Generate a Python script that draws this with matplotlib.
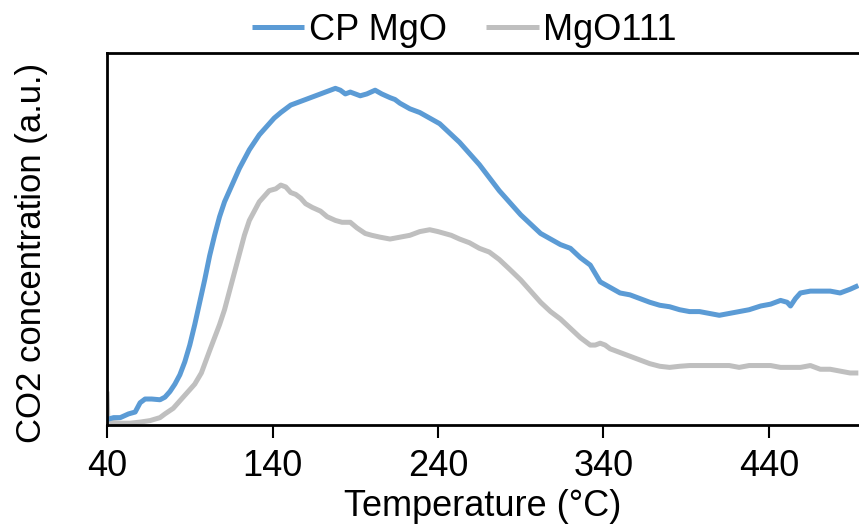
import matplotlib
matplotlib.use("Agg")
import matplotlib.pyplot as plt

# ------------------ DATA ------------------

cp_temp = [40, 44, 48, 53, 57, 60, 63, 67, 72, 75, 78, 81, 84, 87, 90, 93, 96, 99, 102, 105,
           108, 111, 114, 117, 120, 123, 126, 129, 132, 135, 138, 141, 145, 148, 151, 154, 157,
           160, 163, 166, 169, 172, 175, 178, 181, 184, 187, 190, 193, 197, 202, 206, 211, 214,
           217, 223, 229, 235, 241, 247, 253, 259, 265, 271, 277, 283, 290, 296, 302, 308, 314,
           320, 326, 332, 338, 344, 350, 356, 362, 368, 374, 380, 386, 392, 398, 404, 410, 416,
           422, 428, 435, 441, 447, 451, 453, 456, 459, 465, 471, 477, 483, 489, 494]
cp_val = [0.015, 0.02, 0.02, 0.03, 0.035, 0.06, 0.07, 0.07, 0.068, 0.075, 0.09, 0.11, 0.135,
          0.17, 0.215, 0.27, 0.33, 0.39, 0.455, 0.51, 0.56, 0.6, 0.63, 0.66, 0.69, 0.715, 0.74,
          0.76, 0.78, 0.795, 0.81, 0.825, 0.84, 0.85, 0.86, 0.865, 0.87, 0.875, 0.88, 0.885,
          0.89, 0.895, 0.9, 0.905, 0.9, 0.89, 0.895, 0.89, 0.885, 0.89, 0.9, 0.89, 0.88, 0.875,
          0.865, 0.85, 0.84, 0.825, 0.81, 0.785, 0.76, 0.73, 0.7, 0.665, 0.63, 0.6, 0.565, 0.54,
          0.515, 0.5, 0.485, 0.475, 0.45, 0.43, 0.385, 0.37, 0.355, 0.35, 0.34, 0.33, 0.322,
          0.318, 0.31, 0.305, 0.305, 0.3, 0.295, 0.3, 0.305, 0.31, 0.32, 0.325, 0.335, 0.33,
          0.32, 0.34, 0.355, 0.36, 0.36, 0.36, 0.355, 0.365, 0.375]

mgo_temp = [40, 40.5, 42, 48, 54, 60, 66, 72, 75, 80, 84, 88, 93, 97, 102, 105, 108, 111, 114,
            117, 120, 123, 126, 129, 132, 135, 138, 142, 145, 148, 151, 154, 157, 160, 164, 169,
            173, 178, 182, 187, 191, 196, 200, 205, 211, 217, 223, 229, 235, 240, 244, 248, 253,
            259, 265, 271, 277, 283, 290, 296, 302, 308, 314, 320, 326, 329, 332, 335, 338, 341,
            344, 350, 356, 362, 368, 374, 380, 386, 392, 398, 404, 410, 416, 422, 428, 435, 441,
            447, 453, 459, 465, 471, 477, 483, 489, 494]
mgo_val = [0.09, 0.01, 0.008, 0.005, 0.005, 0.008, 0.012, 0.02, 0.03, 0.045, 0.065, 0.085,
           0.11, 0.14, 0.2, 0.235, 0.27, 0.31, 0.36, 0.41, 0.46, 0.51, 0.55, 0.575, 0.6, 0.615,
           0.63, 0.635, 0.645, 0.64, 0.625, 0.62, 0.61, 0.595, 0.585, 0.575, 0.56, 0.55, 0.545,
           0.545, 0.53, 0.515, 0.51, 0.505, 0.5, 0.505, 0.51, 0.52, 0.525, 0.52, 0.515, 0.51,
           0.5, 0.49, 0.475, 0.465, 0.445, 0.42, 0.39, 0.36, 0.33, 0.305, 0.285, 0.26, 0.235,
           0.225, 0.215, 0.215, 0.22, 0.215, 0.205, 0.195, 0.185, 0.175, 0.165, 0.158, 0.155,
           0.158, 0.16, 0.16, 0.16, 0.16, 0.16, 0.155, 0.16, 0.16, 0.16, 0.155, 0.155, 0.155,
           0.16, 0.15, 0.15, 0.145, 0.14, 0.14]

x_ticks = [40, 140, 240, 340, 440]

# ------------------ CHART ------------------

plt.rcParams["font.family"] = ["Liberation Sans", "DejaVu Sans"]

fig = plt.figure(figsize=(8.59, 5.30), dpi=100)
ax = fig.add_axes([0.1246, 0.198, 0.8754, 0.702])

ax.plot(mgo_temp, mgo_val, color="#BFBFBF", lw=3.6, label="MgO111", solid_capstyle="butt")
ax.plot(cp_temp, cp_val, color="#5B9BD5", lw=3.6, label="CP MgO", solid_capstyle="butt")

ax.set_xlim(40, 494.4)
ax.set_ylim(0, 1)
ax.set_xticks(x_ticks)
ax.set_yticks([])
ax.tick_params(axis="x", direction="out", length=9, width=1.5, labelsize=26, pad=8)

for side in ["left", "bottom", "top"]:
    ax.spines[side].set_linewidth(2)
ax.spines["right"].set_visible(False)

ax.set_xlabel("Temperature (°C)", fontsize=26, labelpad=4)
# y label sits a bit low in the original, place it by hand
fig.text(32 / 859, 1 - 253 / 530, "CO2 concentration (a.u.)", fontsize=25,
         rotation=90, ha="center", va="center")

handles, labels = ax.get_legend_handles_labels()
ax.legend(handles[::-1], labels[::-1], loc="lower center", bbox_to_anchor=(0.475, 0.975),
          ncol=2, frameon=False, fontsize=26, handlelength=1.45, handletextpad=0.12,
          columnspacing=1.1, borderaxespad=0)

fig.savefig("out.png", dpi=100)
